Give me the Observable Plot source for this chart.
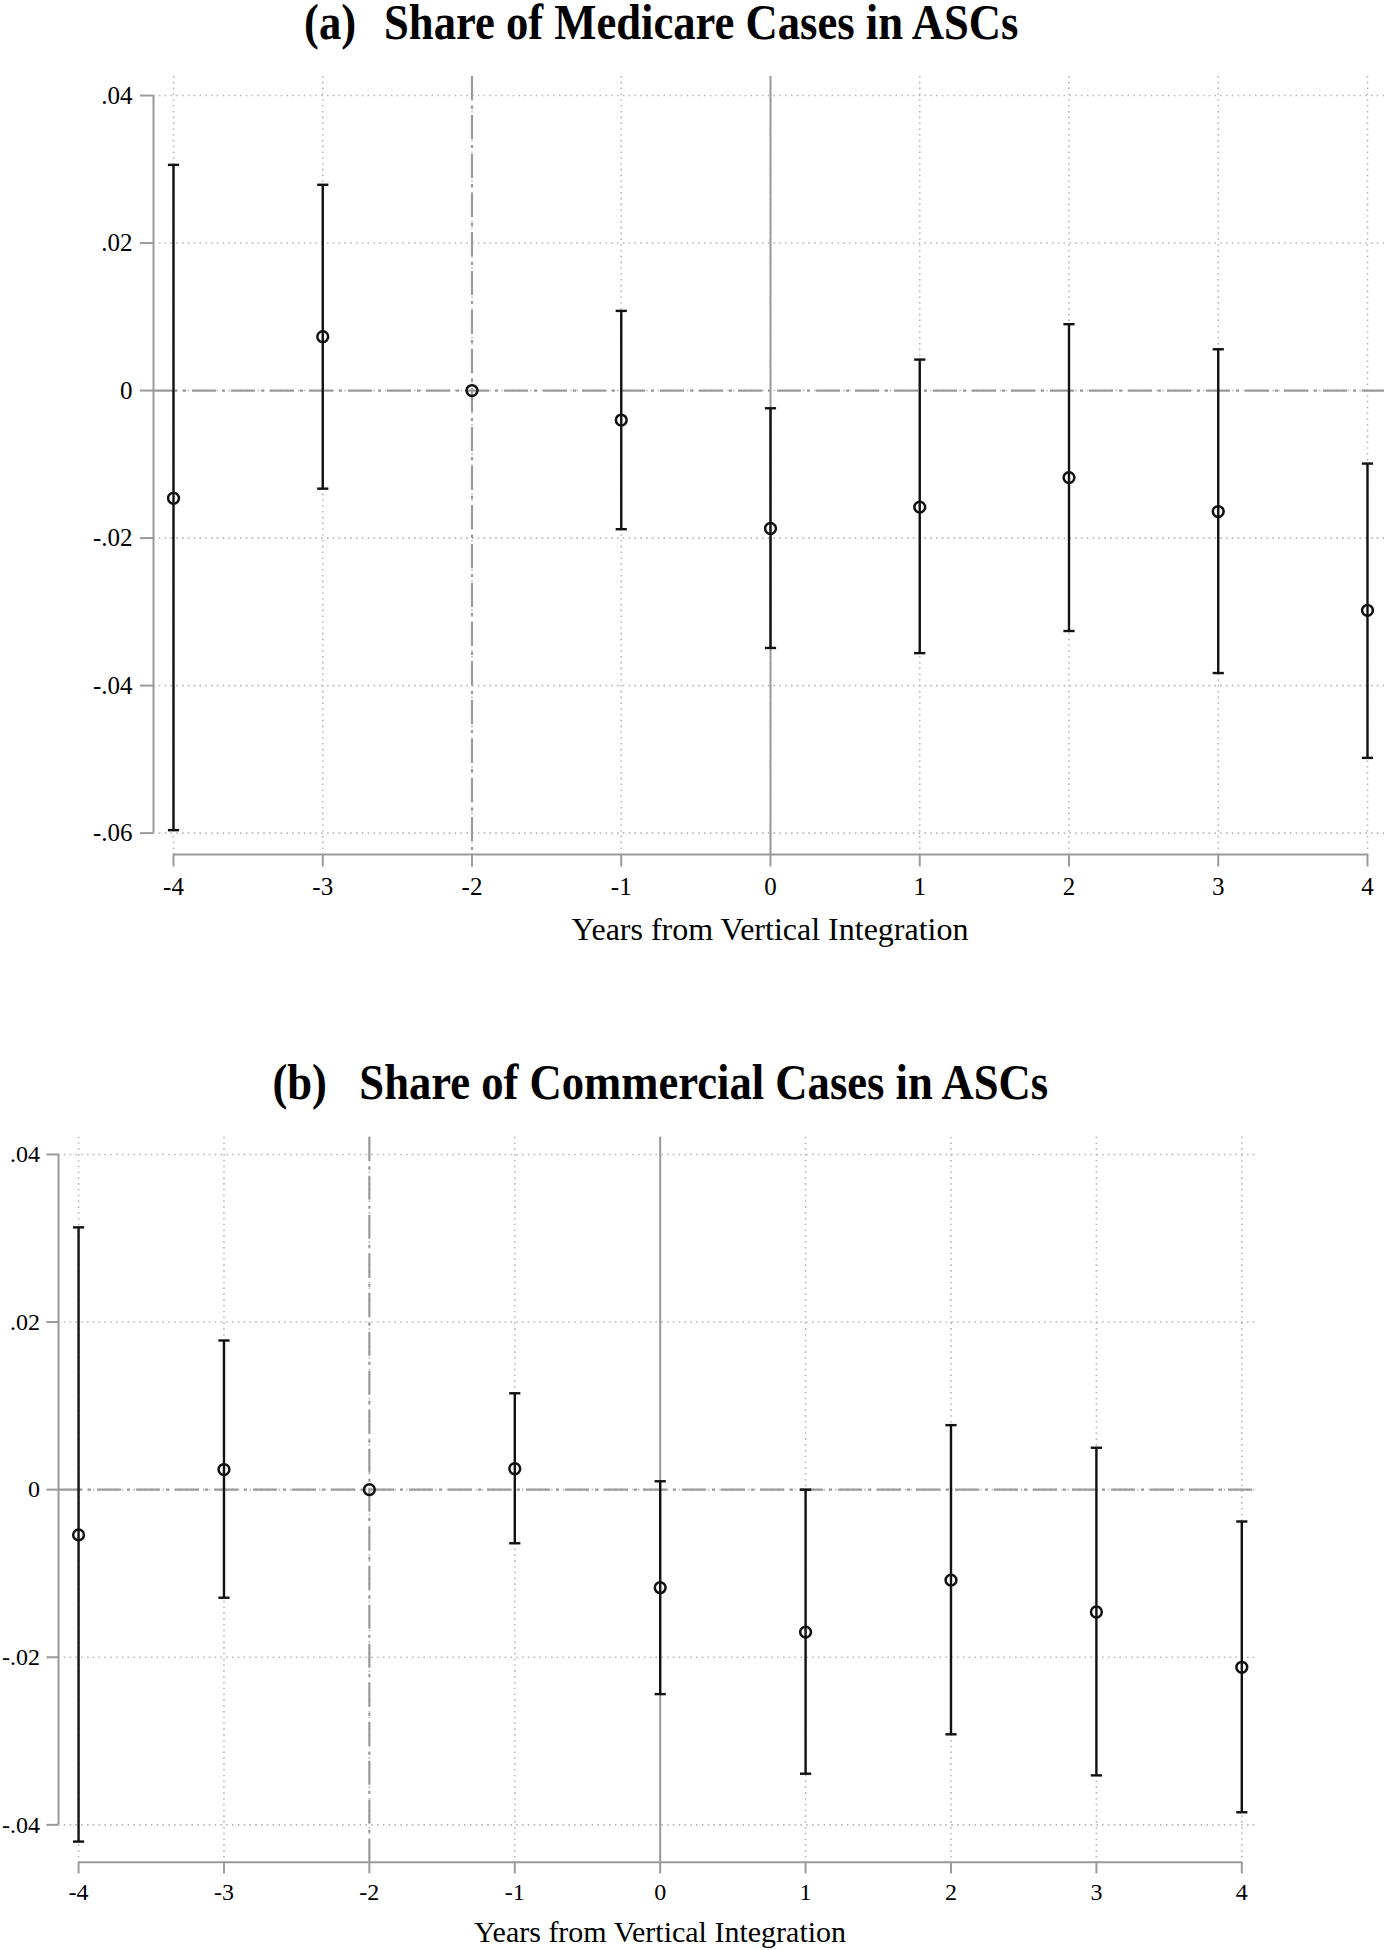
<!DOCTYPE html>
<html>
<head>
<meta charset="utf-8">
<script src="https://cdn.jsdelivr.net/npm/d3@7"></script>
<script src="https://cdn.jsdelivr.net/npm/@observablehq/plot@0.6"></script>
<style>
  body { margin: 0; background: #fff; }
  #wrap { position: relative; width: 1384px; height: 1950px; overflow: hidden;
          font-family: "Liberation Serif", "Times New Roman", serif; color: #000; }
  .title { position: absolute; left: 0; text-align: center; font-weight: bold; line-height: 0.8;
           white-space: nowrap; font-size: 51px; }
  .title .inner { display: inline-block; transform: scaleX(0.875); transform-origin: 50% 50%; }
  .xlab { position: absolute; text-align: center; line-height: 1; white-space: nowrap; }
  .panel { position: absolute; left: 0; }
</style>
</head>
<body>
<div id="wrap">
  <div class="title" style="width:1322px;top:2px;"><span class="inner"><span>(a)</span><span style="margin-left:32px">Share of Medicare Cases in ASCs</span></span></div>
  <div class="panel" id="pa" style="top:0px;"></div>
  <div class="xlab" style="left:0;width:1540px;top:913px;font-size:32px;">Years from Vertical Integration</div>
  <div class="title" style="width:1320px;top:1062px;"><span class="inner"><span>(b)</span><span style="margin-left:37px">Share of Commercial Cases in ASCs</span></span></div>
  <div class="panel" id="pb" style="top:990px;"></div>
  <div class="xlab" style="left:0;width:1320px;top:1917px;font-size:30px;">Years from Vertical Integration</div>
</div>
<script>
// ---- data ----
const years = [-4, -3, -2, -1, 0, 1, 2, 3, 4];

// (a) Share of Medicare Cases in ASCs
const medEst = [-0.0146, 0.0073, 0, -0.0040, -0.0187, -0.0158, -0.0118, -0.0164, -0.0298];
const medLo  = [-0.0596, -0.0133, null, -0.0188, -0.0349, -0.0356, -0.0326, -0.0383, -0.0498];
const medHi  = [0.0306, 0.0279, null, 0.0108, -0.0024, 0.0042, 0.0090, 0.0056, -0.0099];
const medYTicks = [0.04, 0.02, 0, -0.02, -0.04, -0.06];

// (b) Share of Commercial Cases in ASCs
const comEst = [-0.0054, 0.0024, 0, 0.0025, -0.0117, -0.0170, -0.0108, -0.0146, -0.0212];
const comLo  = [-0.0420, -0.0129, null, -0.0064, -0.0244, -0.0339, -0.0292, -0.0341, -0.0385];
const comHi  = [0.0313, 0.0178, null, 0.0115, 0.0010, 0.0000, 0.0077, 0.0050, -0.0038];
const comYTicks = [0.04, 0.02, 0, -0.02, -0.04];

const refYear = -2;   // omitted reference period (dash-dot vertical line)
const eventYear = 0;  // year of integration (solid vertical line)

// ---- helpers ----
const yFmt = d => d === 0 ? "0" : d3.format(".2f")(d).replace("0.", ".").replace("−", "-");
const xFmt = d => String(d);
const capSymbol = {
  draw(context, size) {
    const w = Math.sqrt(size / Math.PI);
    context.moveTo(-w, 0);
    context.lineTo(w, 0);
  }
};
const AXIS = "#9a9a9a";
const GRID = "#b8b8b8";
const INK = "#111";
const DASHDOT = "24,6,3,6";

function panel(o) {
  const data = years.map((x, i) => ({x, est: o.est[i], lo: o.lo[i], hi: o.hi[i]}));
  return Plot.plot({
    width: 1384, height: o.height,
    marginLeft: o.marginLeft, marginRight: o.marginRight,
    marginTop: o.marginTop, marginBottom: o.marginBottom,
    x: {domain: o.xDomain},
    y: {domain: o.yDomain},
    style: {fontFamily: '"Liberation Serif", "Times New Roman", serif', fontSize: o.fontSize + "px",
            color: "#000", background: "transparent", overflow: "visible"},
    marks: [
      Plot.gridY(o.yTicks, {stroke: GRID, strokeOpacity: 1, strokeWidth: 1.6, strokeDasharray: "1.6,4.2"}),
      Plot.gridX(years, {stroke: GRID, strokeOpacity: 1, strokeWidth: 1.6, strokeDasharray: "1.6,4.2"}),
      Plot.ruleY([0], {stroke: AXIS, strokeWidth: 2.2, strokeDasharray: DASHDOT}),
      Plot.ruleX([refYear], {stroke: AXIS, strokeWidth: 2.2, strokeDasharray: DASHDOT}),
      Plot.ruleX([eventYear], {stroke: AXIS, strokeWidth: 2}),
      // axis lines spanning the tick range (Stata style)
      Plot.ruleY([o.yDomain[0]], {x1: years[0], x2: years[years.length - 1], stroke: AXIS, strokeWidth: 2}),
      Plot.ruleX([o.xDomain[0]], {y1: o.yTicks[o.yTicks.length - 1], y2: o.yTicks[0], stroke: AXIS, strokeWidth: 2}),
      Plot.axisX(years, {tickSize: o.xTickSize, tickPadding: o.xTickPad, stroke: AXIS, strokeWidth: 2,
                         fill: "#000", tickFormat: xFmt, label: null, fontSize: o.fontSize}),
      Plot.axisY(o.yTicks, {tickSize: o.yTickSize, tickPadding: o.yTickPad, stroke: AXIS, strokeWidth: 2,
                            fill: "#000", tickFormat: yFmt, label: null, fontSize: o.fontSize}),
      // confidence intervals
      Plot.ruleX(data, {x: "x", y1: "lo", y2: "hi", stroke: INK, strokeWidth: 2.4}),
      Plot.dot(data, {x: "x", y: "hi", symbol: capSymbol, r: 5.6, stroke: INK, strokeWidth: 2.4, fill: "none"}),
      Plot.dot(data, {x: "x", y: "lo", symbol: capSymbol, r: 5.6, stroke: INK, strokeWidth: 2.4, fill: "none"}),
      // point estimates
      Plot.dot(data, {x: "x", y: "est", r: 5.4, stroke: INK, strokeWidth: 2.5, fill: "none"})
    ]
  });
}

document.getElementById("pa").append(panel({
  est: medEst, lo: medLo, hi: medHi, yTicks: medYTicks,
  height: 960, marginTop: 76, marginBottom: 106, marginLeft: 153, marginRight: 0,
  xDomain: [-4.134, 4.114], yDomain: [-0.0629, 0.04258],
  xTickSize: 12.5, xTickPad: 10, yTickSize: 13, yTickPad: 8, fontSize: 25
}));

document.getElementById("pb").append(panel({
  est: comEst, lo: comLo, hi: comHi, yTicks: comYTicks,
  height: 960, marginTop: 146.7, marginBottom: 88.3, marginLeft: 58, marginRight: 127,
  xDomain: [-4.138, 4.108], yDomain: [-0.04446, 0.04206],
  xTickSize: 11.7, xTickPad: 9, yTickSize: 11.6, yTickPad: 7, fontSize: 24
}));
</script>
</body>
</html>
